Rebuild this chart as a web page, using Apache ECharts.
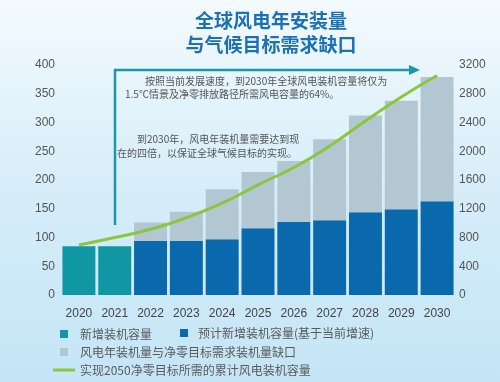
<!DOCTYPE html>
<html>
<head>
<meta charset="utf-8">
<script src="https://cdn.jsdelivr.net/npm/echarts@6/dist/echarts.min.js"></script>
<style>
html,body{margin:0;padding:0;}
#c{width:500px;height:382px;}
</style>
</head>
<body>
<div id="c"></div>
<script>
// ---- data ----
var years = ['2020','2021','2022','2023','2024','2025','2026','2027','2028','2029','2030'];
var installed = [85, 85, null, null, null, null, null, null, null, null, null];          // 新增装机容量
var projected = [null, null, 94, 94, 97, 116, 127, 130, 144, 149, 163];                   // 预计新增装机容量
var gap = [null, null, 32, 51, 87, 98, 106, 141, 168, 189, 216];                          // 缺口
var cumulativeNeeded = [696, 800, 914, 1075, 1277, 1533, 1774, 2073, 2420, 2754, 3053];   // 累计装机容量 (右轴)
var leftTicks = {min: 0, max: 400, interval: 50};
var rightTicks = {min: 0, max: 3200, interval: 400};
var names = ['新增装机容量', '预计新增装机容量(基于当前增速)', '风电年装机量与净零目标需求装机量缺口', '实现2050净零目标所需的累计风电装机容量'];
var titleLines = ['全球风电年安装量', '与气候目标需求缺口'];
var note1 = ['按照当前发展速度，到2030年全球风电装机容量将仅为', '1.5℃情景及净零排放路径所需风电容量的64%。'];
var note2 = ['到2030年，风电年装机量需要达到现', '在的四倍，以保证全球气候目标的实现。'];

var font = '"Noto Sans CJK SC", "Liberation Sans", sans-serif';
var chart = echarts.init(document.getElementById('c'), null, {renderer: 'canvas'});
var teal = '#0f97a3', blue = '#0a69ad', grey = '#b2c7d2', green = '#8cc63f', arrow = '#1a98a6';

function legendItem(name, left, top, icon, w, h, pad) {
  return {
    data: [{name: name, icon: icon}], left: left, top: top, padding: 0,
    itemWidth: w, itemHeight: h, selectedMode: false,
    textStyle: {color: '#5a5a5a', fontSize: 12, fontFamily: font, padding: [0, 0, 0, pad]}
  };
}

chart.setOption({
  backgroundColor: {
    type: 'linear', x: 0, y: 0, x2: 0, y2: 1,
    colorStops: [{offset: 0, color: '#f3fafe'}, {offset: 0.5, color: '#d6edf9'}, {offset: 1, color: '#c4e5f6'}]
  },
  animation: false,
  title: {
    text: titleLines.join('\n'), left: 266, top: 4, textAlign: 'center',
    textStyle: {color: '#1b70b6', fontSize: 19, fontWeight: 'bold', lineHeight: 24, fontFamily: font}
  },
  legend: [
    legendItem(names[0], 60, 328, 'rect', 8, 8, 7),
    legendItem(names[1], 180, 327, 'rect', 8, 8, 5),
    legendItem(names[2], 60, 346, 'rect', 8, 8, 7),
    legendItem(names[3], 53, 364, 'rect', 22, 3, 0)
  ],
  grid: {left: 61, right: 45, top: 65, bottom: 87},
  xAxis: {
    type: 'category', data: years,
    axisLine: {show: false}, axisTick: {show: false},
    axisLabel: {color: '#444', fontSize: 12, margin: 13, fontFamily: '"Liberation Sans", sans-serif'}
  },
  yAxis: [
    {type: 'value', min: leftTicks.min, max: leftTicks.max, interval: leftTicks.interval,
     splitLine: {show: false}, axisLine: {show: false}, axisTick: {show: false},
     axisLabel: {color: '#555', fontSize: 12, margin: 6, fontFamily: '"Liberation Sans", sans-serif',
                 formatter: function (v) { return String(v); }}},
    {type: 'value', min: rightTicks.min, max: rightTicks.max, interval: rightTicks.interval,
     splitLine: {show: false}, axisLine: {show: false}, axisTick: {show: false},
     axisLabel: {color: '#555', fontSize: 12, margin: 4, fontFamily: '"Liberation Sans", sans-serif',
                 formatter: function (v) { return String(v); }}}
  ],
  series: [
    {name: names[0], type: 'bar', stack: 's', data: installed, barCategoryGap: '8%',
     itemStyle: {color: teal}},
    {name: names[1], type: 'bar', stack: 's', data: projected, barCategoryGap: '8%',
     itemStyle: {color: blue}},
    {name: names[2], type: 'bar', stack: 's', data: gap, barCategoryGap: '8%',
     itemStyle: {color: grey}},
    {name: names[3], type: 'line', yAxisIndex: 1, data: cumulativeNeeded, smooth: true,
     showSymbol: false, symbol: 'none', z: 5,
     lineStyle: {color: green, width: 3}, itemStyle: {color: green}}
  ],
  graphic: [
    {type: 'polyline', shape: {points: [[115, 225], [115, 70], [411, 70]]},
     style: {stroke: arrow, lineWidth: 2.5, fill: null}, z: 10},
    {type: 'polygon', shape: {points: [[409, 65], [420, 70], [409, 75]]},
     style: {fill: arrow}, z: 10},
    {type: 'text', left: 145, top: 76, style: {text: note1[0], fill: '#555', fontSize: 10, fontFamily: font}},
    {type: 'text', left: 125, top: 89, style: {text: note1[1], fill: '#555', fontSize: 10, fontFamily: font}},
    {type: 'text', left: 137, top: 134, style: {text: note2[0], fill: '#555', fontSize: 10, fontFamily: font}},
    {type: 'text', left: 117, top: 148, style: {text: note2[1], fill: '#555', fontSize: 10, fontFamily: font}}
  ]
});
</script>
</body>
</html>
